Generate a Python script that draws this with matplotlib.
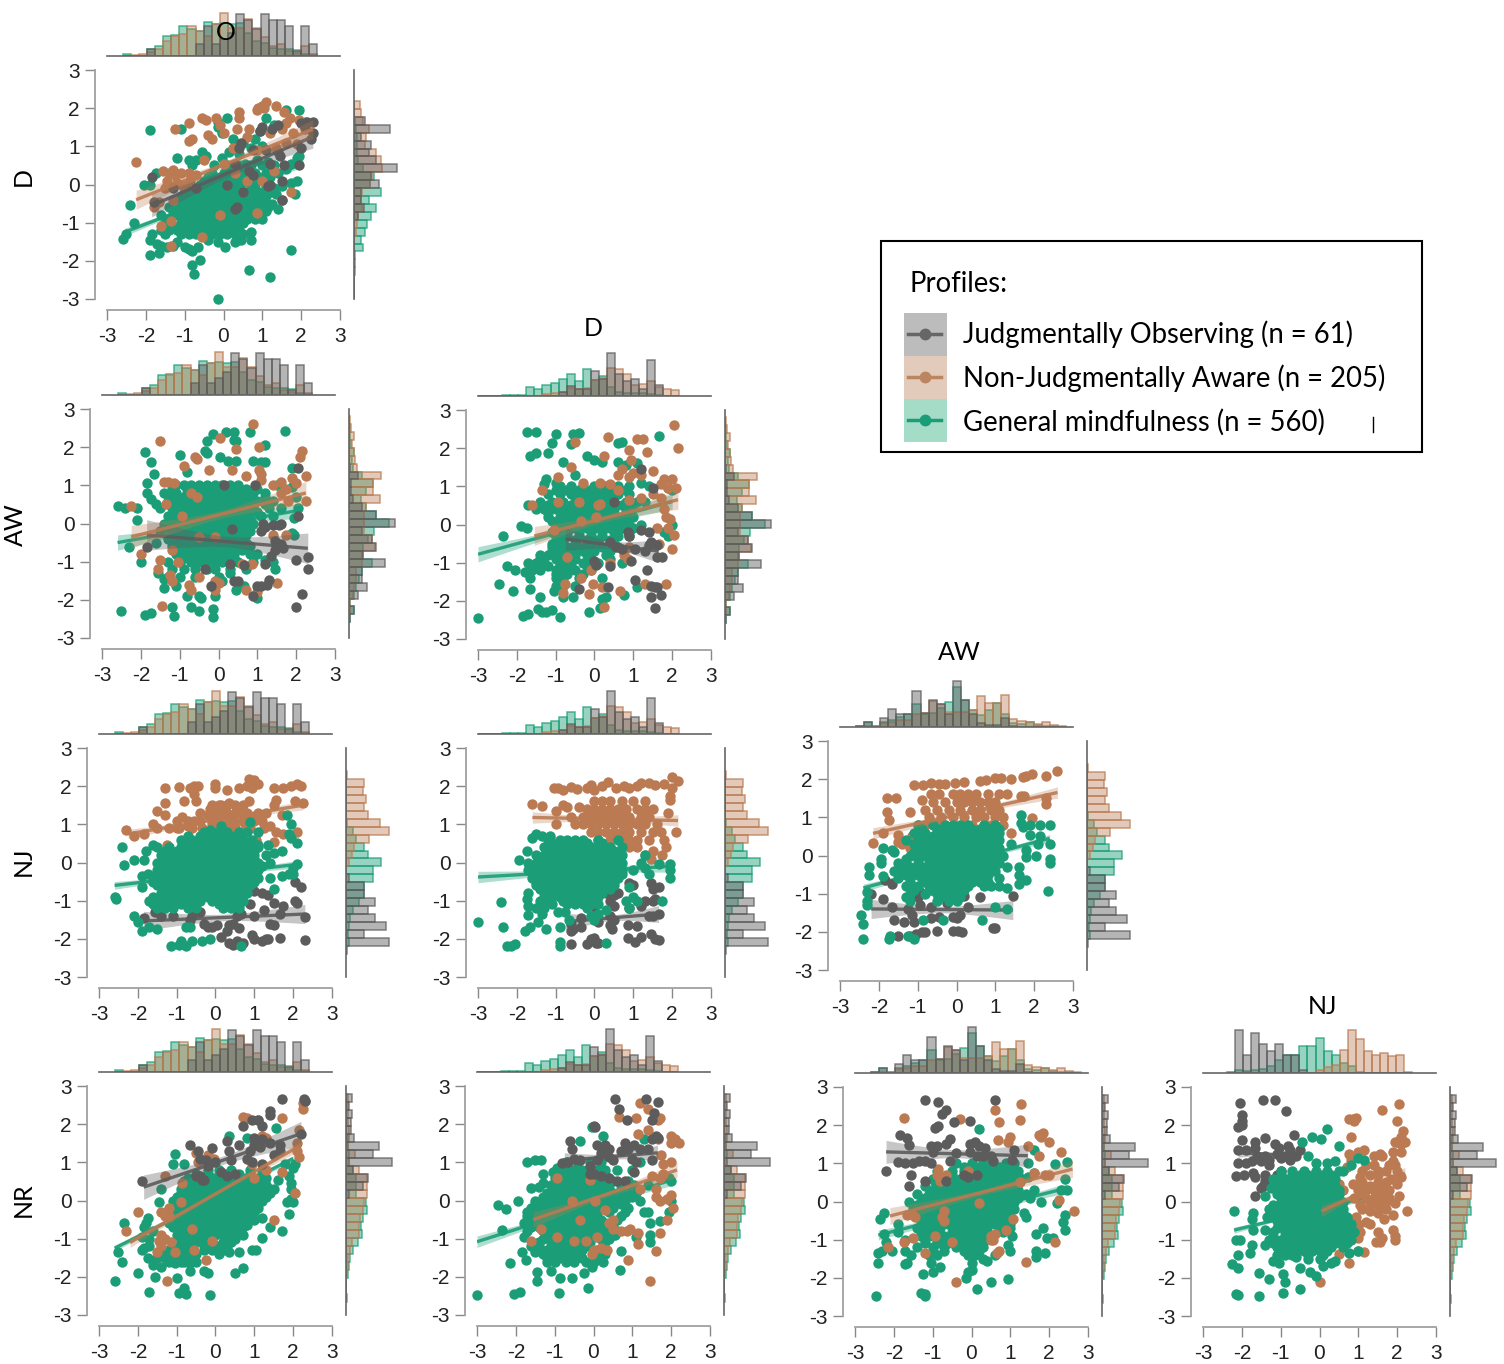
import numpy as np
import matplotlib
matplotlib.use("Agg")
import matplotlib.pyplot as plt

plt.rcParams["axes.unicode_minus"] = False

W, H = 1504, 1364
GRAY, BROWN, GREEN = "#5c5c5c", "#bb7a52", "#1b9e77"
COLORS = [GRAY, BROWN, GREEN]
FONT = "Lato"
TICKS = [-3, -2, -1, 0, 1, 2, 3]

# histogram bar heights, one bin per value; start and step of the bins
o_start, o_step = -2.6, 0.209
o_gray = [0,0,0,20,0,0,0,0,0,35,90,35,50,68,127,108,80,127,107,108,90,15,90,35]
o_brown = [1,3,5,12,20,45,60,65,90,75,60,95,128,85,85,110,85,58,30,37,15,10,30,5]
o_green = [5,0,0,20,30,60,62,90,80,75,103,95,100,97,100,70,45,40,25,20,20,18,5,3]
d_start, d_step = -3.0, 0.2075
d_gray = [0,0,0,0,0,0,0,0,0,0,12,30,20,22,75,50,128,65,45,52,22,108,33,0,0]
d_brown = [0,0,0,0,0,0,0,0,5,10,12,25,22,25,48,55,85,80,65,32,35,45,28,22,18]
d_green = [1,1,1,2,3,3,27,22,34,40,50,65,45,82,48,60,28,12,10,8,8,5,3,0,0]
aw_start, aw_step = -2.59, 0.208
aw_gray = [2,15,0,27,54,40,40,108,42,82,68,40,137,82,40,12,5,5,27,4,0,0,0,0,0,0]
aw_brown = [1,3,2,12,15,22,22,40,42,78,70,45,45,45,52,92,72,72,97,25,18,15,8,14,5,2]
aw_green = [3,15,2,15,20,30,40,68,40,42,58,75,120,82,50,35,50,72,40,12,10,15,5,3,3,1]
nj_start, nj_step = -2.39, 0.208
nj_gray = [2,130,55,120,88,65,87,55,55,8,0,0,0,0,0,0,0,0,0,0,0,0,0]
nj_brown = [0,0,0,0,0,0,0,0,0,0,0,8,18,25,70,130,103,65,55,60,50,55,2]
nj_green = [1,8,5,10,12,20,38,55,55,82,82,105,65,55,30,20,3,0,0,0,0,0,0]
nr_start, nr_step = 2.78, -0.209
nr_gray = [18,8,18,15,14,25,100,82,138,20,65,50,10,0,0,0,0,0,0,0,0,0,0,0,0,0]
nr_brown = [5,5,6,5,8,10,5,28,10,38,62,62,62,55,50,42,38,38,18,12,5,5,3,1,0,0]
nr_green = [0,0,0,0,0,5,5,8,8,20,30,30,30,60,62,52,45,48,37,20,12,10,6,0,0,3]

# scatter points as x,y pairs per panel; *_core and *_fill = {y: [x, ...]} for the solid middle of a cloud
od_gray = [2,1.6, 2.15,1.65, 2.3,1.65, 2.1,1.5, 2.3,1.35, 2.25,1.2, 2,.95, 1.95,.5, 1,1.5, .95,1.4, 1.25,1.45, 1.4,1.55, .45,1.1, .4,.95, .75,.9, 1.1,.9, 1.2,.55, 1.45,.75, 1.55,.5, 1.5,.1, -1.85,.2, -1.8,-.45, -1.3,-.1, -.7,-.1, .1,0, .5,-.2, .65,.35, .3,.55, .35,-.6, .3,-.65, 1.2,0, 1.15,-.05, 1.5,-.4, .75,.25]
od_brown = [.9,2, 1,2.05, 1.1,2.15, 1.05,2, .85,1.95, 1.35,2.05, 1.55,1.9, 1.7,1.75, 1.95,1.7, 2.1,1.65, 1.6,1.6, .4,1.9, .4,1.75, -.55,1.75, -.45,1.7, -.2,1.75, -.9,1.6, -1.25,1.45, -.1,1.55, .35,1.45, .65,1.45, -.8,1.2, -.9,1.15, -.4,1.3, -.3,1.2, 0,1.35, .25,.95, .6,1.25, .85,.9, 1.2,1.35, 1.5,1.45, 1.8,1.35, 2.1,1.45, 1.6,1.1, 1.35,.95, 1.9,1.05, -2.25,.6, -1.55,.35, -1.4,.3, -1.3,.38, -1.25,.25, -1.1,.3, -.9,.3, -.85,.1, -.7,.25, -1.45,.1, -1.2,.05, -1.05,-.05, -1.5,-.1, -1.8,-.6, -1.65,-.45, -1.3,-.4, -1.35,-.95, -1.6,-1.1, -.55,-1.38, -1.35,-1.62, -.1,-.8, .85,-.75, 1.75,-.2, -.5,.65, 0,.55, .3,.3, .6,.1, 1,.1, 1.3,.35, 1.5,-.4]
od_green = [-1.9,1.42, -1.1,1.45, -2.6,-1.43, -2.5,-1.3, -2.4,-.55, -2.3,-1, -2.05,0, -1.9,0, -1.75,.3, -1.2,.7, -.9,.65, -.7,.65, -.55,.85, -.45,.75, -.15,1.65, .1,1.75, -.15,1.5, -.05,1.35, .25,1.2, .5,1.1, .8,1.2, .95,1.4, 1.1,1.75, 1.6,1.95, 1.95,1.95, 1.3,1.55, 1,1, .7,.95, .4,.8, .15,.85, -.25,.5, -.05,.7, .55,.55, .85,.65, 1.15,.6, 1.4,.85, 1.75,.55, 1.9,.7, 1.95,.75, 1.6,.4, 1.75,.05, 1.9,.1, 1.85,-.25, 1.5,-.05, 1.35,-.25, 1.25,-.5, 1.4,-.65, 1.15,-.6, 1,-.9, .75,-.7, .7,-1.25, .7,-1.45, 1.75,-1.72, 1.2,-2.42, .65,-2.25, -.15,-3, -.6,-1.97, -.8,-2.1, -.75,-2.35, -.8,-1.75, -1.9,-1.85, -1.65,-1.8, -1.6,-1.6, -1.45,-1.65, -1.9,-1.45, -1.85,-1.3, -1.7,-1.55, -1.3,-1.6, -1.2,-1.5, -1,-1.65, -.9,-1.7, -.65,-1.65, -.4,-1.45, -.15,-1.5, .05,-1.65, .3,-1.5, .45,-1.45]
od_green_core = {-1.2: [-1.6,-1.4,-1.2,-1,-.8,-.6,-.4,-.2,0,.2,.4], -1: [-1.5,-1.1,-.9,-.7,-.5,-.3,-.1,.1,.3,.5], -.8: [-1.6,-1.2,-1,-.8,-.6,-.4,-.2,0,.2,.4,.6], -.6: [-1.4,-1.1,-.9,-.7,-.5,-.3,-.1,.1,.5,.8], -.4: [-1.2,-1,-.8,-.6,-.4,-.2,0,.2,.4,.7,1], -.2: [-1,-.7,-.5,-.3,-.1,.1,.3,.6,.9,1.2], 0: [-.6,-.4,-.2,0,.2,.4,.7,1.1], .2: [-.4,-.1,.1,.3,.6,.9,1.2]}
od_green_fill = {-1.3: [-1.5,-1.1,-.9,-.7,-.5,-.3,-.1,.1,.3,.5], -1.1: [-1.3,-1.1,-.9,-.7,-.5,-.3,-.1,.1,.3], -.9: [-1.4,-1,-.8,-.6,-.4,-.2,0,.2,.4,.6,.8], -.7: [-1.3,-1,-.8,-.6,-.4,-.2,0,.2,.6,.9,1.1], -.5: [-1.2,-.9,-.7,-.5,-.3,-.1,.1,.6,.9,1.1], -.3: [-1.1,-.9,-.7,-.5,-.3,-.1,.1,.3,.5,.8,1.1], -.1: [-.9,-.6,-.4,-.2,0,.2,.8,1.1,1.3], .1: [-.5,-.3,-.1,.1,.3,.5,.8,1.1], .3: [-.3,0,.2,.5,.8,1.1,1.4], .5: [-.8,.1,.4,.7,1,1.3]}

oaw_gray = [2.05,1.45, 2.05,.2, 2,-.95, 2.3,-.87, 2.3,-1.2, 2.15,-1.85, 2,-2.2, .9,-1.9, 1,-1.65, 1.1,-1.65, 1.25,-1.6, 1.3,-1.48, 1.2,-1.05, 1.35,-.85, 1.45,-.7, 1.5,-.55, 1.45,-.45, 1.6,-.55, 1.65,-.65, 1.2,-.1, 1.4,-.05, 1.55,-.05, 1.6,0, 1.1,-.2, 1.15,0, .95,1, .15,1, -1.85,-.62, .35,-.15, .3,-1.05, .65,-1.1, .4,-1.5, .5,-1.5, -.2,-1.65, -.35,-1.2]
oaw_brown = [-1.5,2.17, .9,2.6, .05,2.25, .45,1.95, 1.05,2, 2.15,1.9, 2.1,1.75, -.6,1.75, -.55,1.7, -.9,1.5, -.25,1.4, .35,1.4, 1.05,1.4, 1.1,1.3, -1.3,1.1, -1.4,1.1, -1.15,1.05, -2.25,.45, 1.6,1.1, 1.9,1.2, 2.25,1.25, 2,1.05, 1.75,.9, 1.4,1, 2.25,.6, 1.8,.6, 1.6,.8, 1.1,1.15, .7,1.25, -.7,.8, -.55,.7, -1.35,.5, -.95,.2, -.5,-.35, -.1,-.35, 1.4,-.3, 1.75,-.3, -2,-.8, -1.5,-.95, -1.55,-1.2, -1.2,-.7, -1.05,-1, -1.25,-1.35, -1.2,-1.5, -.5,-1.4, -.75,-1.6, -.7,-1.75, -.1,-1.5, 0,-1.55, -.1,-1.75, .7,-1.75, 1.5,-1.55, 1,-1.8, -1.45,-2.15, .6,-1.05, .85,-1.05]
oaw_green = [-2.6,.47, -2.4,.4, -2.1,.4, -2.1,.1, -2.3,-.62, -2,-1, -1.9,1.87, -1.75,1.6, -1.65,1.3, -1.85,.8, -1.85,1.05, -1.75,.65, -1.6,.5, -1.6,-.5, -1.55,-1.3, -1.4,-1.45, -1.4,-1.7, -1.1,-1.65, -1,1.8, -.8,1.35, -.3,2.15, -.35,1.9, -.3,1.85, -.15,2.35, .2,2.4, .4,2.4, .45,2.15, .4,2.2, .8,2.4, 1.7,2.43, 1.2,2.05, .05,1.75, .25,1.65, .45,1.65, .9,1.65, 1.1,1.6, 1.2,1.6, 1.9,1.45, 1.9,.95, 2,.7, 2.05,.4, 1.95,.15, 1.5,1, -2.5,-2.3, -1.9,-2.4, -1.75,-2.35, -1.2,-2.2, -1.15,-2.43, -.7,-2.2, -.5,-2.3, -.15,-2.25, -.15,-2.45, -.8,-1.9, -.5,-1.9, -.45,-1.95, -.1,-1.9, .45,-1.75, .65,-1.65, .95,-1.9, 1,-1.95, 1.2,-.95, 1.4,-1, 1.45,-1.2, 1.95,-.3, 1.9,-.25, .3,-1.3, .1,-1.5]
oaw_green_core = {1: [-1.1,-.9,-.7,-.5,-.3,-.1,.1,.3,.5], .8: [-1.4,-1.1,-.8,-.6,-.4,-.2,0,.2,.4,.6,.9,1.2], .6: [-1.3,-1,-.7,-.5,-.3,-.1,.1,.3,.5,.7,1,1.4], .4: [-1.5,-1.2,-.9,-.6,-.4,-.2,0,.2,.4,.6,.9,1.3,1.6], .2: [-1.3,-1,-.7,-.5,-.3,-.1,.1,.3,.5,.7,1.1,1.4], 0: [-1.4,-1.1,-.8,-.6,-.4,-.2,0,.2,.4,.6,.9], -.2: [-1.5,-1.2,-.9,-.7,-.5,-.3,-.1,.1,.3,.5,.8], -.4: [-1.3,-1,-.8,-.6,-.4,-.2,0,.2,.4,.6], -.6: [-1.2,-.9,-.7,-.5,-.3,-.1,.1,.3,.5,.8], -.8: [-1.1,-.8,-.6,-.4,-.2,0,.2,.4,.8,1], -1: [-1.3,-1,-.7,-.5,-.3,-.1,.1,.5,.9], -1.2: [-1.2,-.9,-.6,-.3,-.1,.3,.7], -1.4: [-1.3,-1,-.6,0]}
oaw_green_fill = {.9: [-1.2,-.8,-.6,-.4,-.2,0,.2,.4,.7,1], .7: [-1.2,-.9,-.6,-.4,-.2,0,.2,.4,.6,.8,1.2], .5: [-1.1,-.8,-.6,-.4,-.2,0,.2,.4,.6,.8,1.2], .3: [-1.1,-.8,-.6,-.4,-.2,0,.2,.4,.6,.8,1], .1: [-1.2,-.9,-.6,-.4,-.2,0,.2,.4,.6,.8], -.1: [-1.3,-1,-.7,-.5,-.3,-.1,.1,.3,.5,.7], -.3: [-1.1,-.9,-.7,-.5,-.3,-.1,.1,.3,.5,.7], -.5: [-1.1,-.9,-.7,-.5,-.3,-.1,.1,.3,.5,.7], -.7: [-1,-.8,-.6,-.4,-.2,0,.2,.4,.6], -.9: [-.9,-.6,-.4,-.2,0,.2,.4]}

daw_gray = [1.2,1.45, 1.5,.95, .5,.6, .85,-.2, 1.2,-.15, 1.4,-.2, 1.45,-.45, 1.4,-.55, 1.6,-.55, .4,-.45, .55,-.6, .7,-.65, .95,-.95, 1.35,-1.2, 1.45,-1.6, 1.55,-1.65, 1.6,-1.65, 1.45,-1.9, 1.7,-1.85, 1.55,-2.18, .35,-1.65, -.4,-1.68, 0,-.95, .05,-1.05, .4,-1.1, 1.05,-1.45, 1.75,-.85, 1.6,-.85, .9,-.3, 1.05,-.65, 1.3,-.7]
daw_brown = [.35,2.3, -.5,2.15, 1.1,2.23, 1.25,2.25, 2.05,2.6, 2.15,2, .9,1.95, 1.35,1.9, .25,1.8, .95,1.7, -.6,1.5, -.95,1.25, .7,1.45, 1,1.35, 1.2,1.3, 1.5,1.4, .9,1.25, .6,1.3, 1.8,1.2, 2,1.2, 1.7,1.05, 2.1,.95, 1.9,.95, 1.7,.7, 1.5,.8, 1.2,.7, 1.8,.4, .9,.65, -1.35,.9, -.95,.6, -1.6,.5, -.3,1.1, .15,1.1, .4,1.05, -.4,.6, .1,.5, .15,.55, .6,.9, 1.85,.2, 1.95,.15, 1.9,-.1, 1.6,-.1, 2.05,-.27, 2,-.65, 1.65,-.5, -1.05,-.15, -.35,.1, .05,.2, .85,-.9, .4,-1, -.1,-1.2, -.35,-1.4, -.75,-1.55, -.8,-1.8, .2,-1.65, -.05,-1.55, -.15,-1.82, .65,-1.75, .25,-2.15, 1.85,-1.55, 1.3,-1.55, -.7,-.85, .75,-.8, .9,-.6]
daw_green = [-1.75,2.42, -1.5,2.42, -1,2.38, -.55,2.38, -.4,2.4, -1.1,2.13, -.6,2.1, -1.2,1.88, -1.5,1.88, -1.65,1.8, -.8,1.65, .6,2.13, .7,2.15, 1.65,2.33, -.2,1.8, 0,1.7, .2,1.65, .6,1.65, .8,1.55, 1.1,1.6, -.5,1.3, -1.25,1.2, -1.3,1.05, -1,1.1, -1.7,.5, -1.9,-.05, -2.35,-.3, -1.75,-.1, -2.25,-1.1, -2.05,-1.2, -1.8,-1.25, -1.65,-1.4, -2.45,-1.57, -2.1,-1.75, -1.65,-1.7, -1.4,-1.9, -3,-2.45, -1.85,-2.4, -1.7,-2.35, -1.45,-2.22, -1.35,-2.3, -1.25,-2.3, -1.1,-2.23, -.9,-2.42, -.15,-2.3, .15,-2.2, .2,-1.95, .3,-1.9, -.55,-1.9, -.8,-1.9, -1.05,-1.75, .75,-1.85, 1.1,-1.65, 1.9,.95, 2,.9, 1.9,-.3, 2,0, 1.8,-.2, 1.2,1.1, 1.4,1, .9,1]
daw_green_core = {1: [-.9,-.6,-.3,0,.3,.6], .8: [-1.2,-.9,-.6,-.4,-.2,0,.2,.4,.6,.9], .6: [-1.4,-1.1,-.8,-.5,-.3,-.1,.1,.3,.5,.8,1.1,1.3], .4: [-1.5,-1.3,-1,-.7,-.4,-.2,0,.2,.5,.8], .2: [-1.2,-.9,-.6,-.3,-.1,.1,.3,.6,1], 0: [-1,-.8,-.5,-.3,-.1,.1,.3,.6,.9,1.2], -.2: [-1.1,-.9,-.7,-.4,-.1,.2,.5,.9], -.4: [-1,-.8,-.5,-.2,.1,.4], -.6: [-1.1,-.9,-.7,-.4,-.1,.2,.6], -.8: [-1.4,-1.2,-1,-.8,-.5,-.2,.3], -1: [-1.7,-1.5,-1.3,-.9,-.7,-.3,.1,.7], -1.2: [-1.6,-1.4,-1,-.8,-.5,-.1], -1.4: [-1,-.8,-.4,.2], -1.6: [-1,-.8,-.5]}
daw_green_fill = {.9: [-1,-.7,-.4,-.1,.2,.5,.8], .5: [-1.2,-.9,-.6,-.2,0,.2,.4,.7,1], .3: [-1.2,-.8,-.5,-.2,0,.2,.4,.8], .1: [-1.1,-.8,-.6,-.4,-.2,0,.2,.5,.8], -.1: [-1,-.8,-.6,-.2,0,.2,.4,.7,1], -.3: [-1,-.7,-.4,-.1,.2,.6,.9], -.5: [-1.1,-.8,-.5,-.2,.1,.5], -.7: [-1.1,-.8,-.6,-.3,0,.4], -.9: [-1.4,-1,-.8,-.5,-.1,.4], -1.1: [-1.5,-1.2,-.9,-.6,-.2], -1.3: [-1,-.7,-.3]}

onj_gray = [-1.85,-1.45, -1.55,-1.3, -1.4,-1.4, -1.1,-1.4, -.65,-1.5, -.6,-1.4, -.4,-1.3, -.3,-1.62, -.2,-1.7, -.1,-1.68, .05,-1.65, .15,-1.95, .3,-1.8, .35,-1.65, .45,-1.6, .55,-1.4, .65,-1.35, .6,-1.72, .35,-2.1, .45,-2.15, .55,-2.05, .7,-2.1, .95,-1.9, 1,-2, 1.2,-2.05, 1.3,-2, 1.35,-2, 1.65,-1.97, 2.3,-2.03, 2.3,-1.43, 1.65,-1.35, 1.4,-1.6, 1.5,-1.65, 1.25,-1.25, 1,-1.4, .9,-1.1, 1,-.75, 1.2,-.8, 1.35,-.85, 1.75,-1.15, 2.05,-1, 2.1,-1.05, 2.05,-.5, 2.2,-.65, -.3,-.8, .05,-.9, 1.5,-1.05]
onj_brown = [-2.3,.85, -2.1,.7, -1.85,.75, -1.6,1, -1.5,1.35, -1.3,1.25, -1.3,1.55, -1.3,1.95, -.95,1.97, -.8,1.6, -.85,1.2, -.65,1.95, -.55,2, -.55,1.8, -.45,2, -.5,1.6, -.55,1.1, -1.2,.9, -.95,.9, -.7,.95, -.35,.9, -.1,1, 0,2.05, 0,1.95, .3,1.9, .15,1.5, .05,1.35, -.2,1.25, -.15,1.4, .35,1.55, .55,1.45, .6,1.95, .8,2, .85,2.2, 1,2.15, 1.1,2.05, .95,1.95, .6,1.3, .85,1.6, .95,1.2, 1.2,1.1, 1.3,1.3, 1.55,1.65, 1.5,1.5, 1.5,1.95, 1.75,1.95, 1.95,2, 2.1,2.05, 2.2,2, 2.05,1.6, 2.25,1.55, 1.7,1.25, 1.4,.95, 1.55,.8, 1.75,.75, 1.5,.55, 1.05,.6, 2.1,.8, -1.25,.45, .2,1.1, .5,1.05, .75,1, .3,.95, 0,1.1]
onj_brown_core = {1.5: [-.1,.1,.3,.5,.7], 1.3: [-.4,-.1,.1,.3,.5,.8,1.1], 1.1: [-1,-.7,-.4,-.1,.1,.4,.7,1], .9: [-1.5,-1,-.6,0,.5,.9,1.25]}
onj_green = [-2.4,.4, -2.35,-.07, -2.1,.07, -1.85,.07, -1.8,.3, -1.6,.47, -1.9,-.35, -1.75,-.3, -1.9,-.65, -2.6,-.9, -2.55,-.95, -1.6,-.5, -2.1,-1.4, -2,-1.55, -1.9,-1.8, -1.7,-1.7, -1.5,-1.73, -1.15,-2.2, -.95,-2.15, -.9,-2.05, -.75,-2.2, -.6,-2.05, -.35,-2.05, -.15,-2, -.75,-1.7, -.65,-1.7, .65,-2.2, 1.85,1.25, 1.95,1, 1.9,.75, 1.95,.65, 2.1,.5, .9,1.05, 1.1,.8, 1.7,.3, 1.5,.25, 1.35,.45, 2.1,-.05, 2,-.15, 1.9,-.3, 2,-.3, 1.7,-.35, 1.4,-.4, 1.5,-.7, 1.2,-.1, 1.1,.45, .15,.95, -.15,.85]
onj_green_core = {.8: [-.3,-.1,.1,.3,.6,.8], .6: [-.9,-.6,-.4,-.2,0,.2,.4,.7,.95], .4: [-1.5,-1.2,-.9,-.6,-.4,-.2,0,.2,.4,.6,.9,1.1], .2: [-1.4,-1.1,-.8,-.6,-.4,-.2,0,.2,.4,.6,.8,1,1.3], 0: [-1.5,-1.3,-1.1,-.9,-.7,-.5,-.3,-.1,.1,.3,.5,.7,.9,1.1,1.4], -.2: [-1.5,-1.3,-1.1,-.9,-.7,-.5,-.3,-.1,.1,.3,.5,.7,.9,1.1], -.4: [-1.6,-1.3,-1.1,-.9,-.7,-.5,-.3,-.1,.1,.3,.5,.7,.9,1.1], -.6: [-1.5,-1.3,-1.1,-.9,-.7,-.5,-.3,-.1,.1,.3,.5,.7,.9], -.8: [-1.4,-1.2,-1,-.8,-.6,-.4,-.2,0,.2,.4,.6,.8], -1: [-1.7,-1.5,-1.3,-1.1,-.8,-.6,-.4,-.1,.1,.3,.5,.7], -1.2: [-1.5,-1.3,-1.1,-.7,-.5,.2,.4,.6]}
onj_green_fill = {.7: [-.7,-.4,-.2,0,.2,.5], .5: [-.8,-.5,-.3,-.1,.1,.3,.5,.8], .3: [-1.3,-1,-.7,-.5,-.3,-.1,.1,.3,.5,.7,1], .1: [-1.2,-1,-.8,-.6,-.4,-.2,0,.2,.4,.6,.8,1], -.1: [-1.4,-1.2,-1,-.8,-.6,-.4,-.2,0,.2,.4,.6,.8,1], -.3: [-1.4,-1.2,-1,-.8,-.6,-.4,-.2,0,.2,.4,.6,.8,1], -.5: [-1.4,-1.2,-1,-.8,-.6,-.4,-.2,0,.2,.4,.6,.8,1], -.7: [-1.3,-1.1,-.9,-.7,-.5,-.3,-.1,.1,.3,.5,.7], -.9: [-1.6,-1.4,-1.2,-1,-.7,-.5,-.2,0,.2,.4,.6], -1.1: [-1.6,-1.4,-1.2,-.9,-.6,.1,.3,.5]}

dnj_gray = [.9,-.55, 1,-.6, 1.45,-.55, 1.5,-.7, 1.65,-.65, .3,-.8, .5,-.85, .6,-.8, .4,-1, .5,-1.15, 1.3,-1, 1.5,-1, 1.55,-.95, 1.2,-1.15, .9,-1.2, 0,-1.15, .05,-1.35, .4,-1.4, .5,-1.5, .1,-1.55, -.35,-1.45, -.6,-1.6, -.6,-1.8, -.35,-1.7, -.55,-1.75, .4,-1.65, .45,-1.75, .85,-1.65, 1.1,-1.67, 1.4,-1.4, 1.5,-1.4, 1.65,-1.35, .85,-1.97, 1.05,-2.07, 1.2,-1.95, 1.45,-1.87, 1.55,-2, 1.65,-2.03, -.6,-2.13, -.2,-2.13, -.1,-2, 0,-1.97, .05,-2.1, .1,-2.1]
dnj_brown = [-1.6,1.52, -1.35,1.48, -1,1.35, -1.05,1.95, -.95,1.95, -.8,1.9, -.6,1.97, -.45,1.93, -.2,1.95, -.1,2.03, 0,1.9, .2,2, .35,2.1, .55,1.95, .75,2, .9,1.95, 1.1,2, 1.2,2.07, 1.4,2.07, 1.55,2.02, 1.8,2.05, 2,2.25, 2.15,2.13, 2,1.95, 1.95,1.75, 1.95,1.65, 1.9,1.3, 2.1,.8, 1.8,.6, 1.85,.4, 1.75,.2, 1.5,.3, 1.45,.1, 1.3,.2, -.8,1.5, -.7,1.45, -.4,1.45, -1,1, -1.15,.65]
dnj_brown_core = {1.6: [0,.2,.4,.7,1,1.3], 1.4: [-.2,0,.2,.4,.6,.8,1.1,1.3,1.5], 1.2: [-.6,-.3,-.1,.1,.3,.5,.7,.9,1.2,1.4], 1: [-.5,-.3,-.1,.1,.3,.5,.7,.9,1.1,1.3,1.6], .8: [-.1,.1,.3,.5,.7,.9,1.2,1.5,1.7], .6: [.1,.4,.7,.9,1.1,1.4], .4: [.4,.9,1.1]}
dnj_green = [-1.95,.07, -1.75,.3, -1.5,.75, -1.6,.65, -1.35,.7, -1.15,.7, -2.4,-1.04, -1.75,-.95, -1.7,-1.15, -1.7,-1.38, -3,-1.55, -2.35,-1.7, -1.65,-1.7, -1.8,-1.8, -1.45,-1.55, -1.25,-1.73, -2.25,-2.18, -2.15,-2.2, -2.05,-2.13, -.9,-1.7, -.9,-2.07, -.9,-2.2, .3,-2.1, 1.95,-.05, 1.95,-.2, 1.95,-.4, 1.75,-1.02, 1.4,-.3, 1.3,-.15, 1.2,0, 1.3,.2, 1.65,-.05, 1,-.2, .9,-.65, 1,-.9, 1.1,-1, .8,-1, .9,-1.2, -1.35,-1.35, -1.3,-1.2, -1.5,-1.2, -.95,-1.3, -.75,-1.3, -.65,-1.5, -.2,-1.2, -.1,-1.4, .1,-1.35, 0,-1.5, .3,-1.25]
dnj_green_core = {.6: [-1.2,-.9,-.7,-.5,-.3,.1,.6], .4: [-1.3,-1.1,-.9,-.7,-.5,-.3,-.1,.1,.4,.7], .2: [-1.5,-1.3,-1.1,-.9,-.7,-.5,-.3,-.1,.1,.3,.5,.7], 0: [-1.7,-1.5,-1.3,-1.1,-.9,-.7,-.5,-.3,-.1,.1,.3,.5,.7], -.2: [-1.7,-1.5,-1.3,-1.1,-.9,-.7,-.5,-.3,-.1,.1,.3,.5,.7], -.4: [-1.6,-1.4,-1.2,-1,-.8,-.6,-.4,-.2,0,.2,.4,.6], -.6: [-1.5,-1.3,-1.1,-.9,-.7,-.5,-.3,-.1,.1,.3,.5], -.8: [-1.7,-1.3,-1,-.8,-.6,-.4,-.2,0,.2], -1: [-1.4,-1.2,-.8,-.6,-.4,-.2,0]}
dnj_green_fill = {.5: [-1.1,-.8,-.6,-.4,-.2,.2], .3: [-1.2,-1,-.8,-.6,-.4,-.2,0,.2,.5], .1: [-1.4,-1.2,-1,-.8,-.6,-.4,-.2,0,.2,.4,.6], -.1: [-1.6,-1.4,-1.2,-1,-.8,-.6,-.4,-.2,0,.2,.4,.6], -.3: [-1.5,-1.3,-1.1,-.9,-.7,-.5,-.3,-.1,.1,.3,.5,.7], -.5: [-1.5,-1.3,-1.1,-.9,-.7,-.5,-.3,-.1,.1,.3,.5], -.7: [-1.4,-1.2,-1,-.8,-.6,-.4,-.2,0,.2,.4], -.9: [-1.3,-1.1,-.9,-.7,-.5,-.3,-.1,.1], -1.1: [-1.3,-1.1,-.7,-.5,-.3,-.1,.1]}

awnj_gray = [-1.85,-.65, -1.65,-.75, -1.9,-1.15, -2.2,-1, -1.65,-1.35, -1.6,-1.7, -1.35,-1.75, -1.1,-1.75, -1.15,-1.55, -1.25,-1.4, -.95,-1.3, -.65,-.9, -.95,-.95, -1,-1.1, -.65,-1.35, -.65,-1.65, -.45,-1.6, -.25,-1.25, -.1,-1.6, 0,-1.65, .1,-1.55, .3,-1.35, .6,-1.1, 1.45,-1.07, 1,-1.9, .95,-1.9, 0,-.7, .3,-.7, .2,-1.05, -1.5,-2.1, -1.2,-2.1, -1.05,-2.05, -.9,-2, -.8,-2, -.5,-1.98, -.1,-1.97, .05,-1.98, .15,-2]
awnj_brown = [-2.15,.32, -1.9,.6, -1.8,1.5, -1.55,1.5, -1.8,1.15, -1.75,.92, -1.2,1.13, -.9,1.45, -1.1,1.85, -.85,1.85, -.65,1.9, -.45,1.88, -.3,1.88, -.05,1.9, .2,1.92, .6,1.95, .75,1.97, 1,2.03, 1.15,2.03, 1.4,2, 1.7,2.05, 1.8,2.08, 1.95,2.13, 2.3,2.07, 2.6,2.22, 2.3,1.35, 2.3,1.5, 1.65,1.55, 1.75,1.55, 1.95,.97, -.65,1.6, -.45,1.6, -1.5,.55, -1.5,.35, -1.4,.3, -1.15,.5, -1.2,.2, -.65,.45]
awnj_brown_core = {1.6: [-.1,.1,.3,.5,.8,1.1,1.3], 1.4: [-.6,-.3,0,.2,.4,.6,.8,1], 1.2: [-.8,-.5,-.2,.1,.4,.6,.9,1.1], 1: [-.7,-.4,-.1,.2,.5,.7,1,1.2], .8: [-1,-.8,-.5,-.3,.4,.7,.9,1.2], .6: [-.9,1.4]}
awnj_green = [-2.25,-.3, -2.25,-.5, -1.9,.2, -1.95,-.1, -1.95,-.2, -1.65,.15, -1.6,.1, -1.9,-.55, -2.3,-.95, -2.3,-1.2, -2.3,-1.3, -2.45,-1.55, -2.4,-1.8, -2.4,-2.2, -1.75,-2.2, -1.7,-2.1, -1.25,-2.1, -1.1,-2.18, -.85,-1.7, .65,-1.7, -.35,-1.7, 1.3,-1.4, 1,-1.35, 1.65,1.05, 1.65,.85, 1.7,.75, 1.9,.8, 2.15,.8, 2.4,.8, 1.9,.55, 2.15,.5, 2.4,.3, 2.1,.3, 2.05,0, 1.8,.15, 1.8,-.05, 2.4,-.1, 2.4,-.2, 1.6,-.3, 1.4,.3, 1.3,-.3, 1.6,-.5, 1.3,-.85, 1.8,-.65, 1.6,-.75, 2.35,-.92, 1.1,-.8]
awnj_green_core = {.8: [-1,-.6,-.3,-.1,.1,.3,.7,1], .6: [-1.1,-.8,-.5,-.3,-.1,.1,.3,.5,.7,.9,1.1], .4: [-1.3,-1,-.7,-.5,-.3,-.1,.1,.3,.5,.7,.9,1.1], .2: [-1,-.7,-.5,-.3,-.1,.1,.3,.5,.7,.9,1.1], 0: [-1.2,-.9,-.6,-.4,-.2,0,.2,.4,.6,.8,1,1.2], -.2: [-1.5,-1.3,-1,-.7,-.5,-.3,-.1,.1,.3,.5,.7,.9,1.1], -.4: [-1.6,-1.4,-1.1,-.8,-.6,-.4,-.2,0,.2,.4,.6,.8,1], -.6: [-1.5,-1.2,-.9,-.7,-.5,-.3,-.1,.1,.3,.5,.7,1.1], -.8: [-1.3,-1,-.7,-.5,-.3,-.1,.1,.3,.7,.9], -1: [-1.2,-.8,-.5,-.3,-.1,.1], -1.2: [-1.2,-.5,-.2,0]}
awnj_green_fill = {.7: [-.9,-.5,-.2,0,.2,.4,.6,.8,1.1], .5: [-.9,-.6,-.4,-.2,0,.2,.4,.6,.8,1], .3: [-1.1,-.8,-.6,-.4,-.2,0,.2,.4,.6,.8,1], .1: [-1.1,-.8,-.6,-.4,-.2,0,.2,.4,.6,.8,1], -.1: [-1.3,-1,-.7,-.5,-.3,-.1,.1,.3,.5,.7,.9], -.3: [-1.2,-.9,-.7,-.5,-.3,-.1,.1,.3,.5,.7,.9], -.5: [-1.3,-1,-.8,-.6,-.4,-.2,0,.2,.4,.6,.8], -.7: [-1.2,-.8,-.6,-.4,-.2,0,.2,.4,.6,.8], -.9: [-1.1,-.6,-.4,-.2,0,.2], -1.1: [-1.3,-.4,-.1,.1]}

onr_gray = [-1.9,.52, -.65,1.45, -.4,1.1, -.45,1.3, -.25,1.05, -.1,1.38, .3,1.55, .35,1.3, .4,1.05, .6,1.45, .7,1.95, .95,2.1, 1.1,2.1, 1.2,1.95, 1.4,2.35, 1.4,2.25, 1.7,2.65, 2.28,2.65, 2.3,2.6, 2.2,1.75, 1,1.65, 1,1.45, 1.15,1.4, 1.2,1.6, 1.4,1.5, .9,1.3, .95,1, 1.2,.95, 1.65,1.45, 1.65,1.3, 1.5,1.2, .8,1.1, 0,1, -.2,.9, -.5,.65, -.4,.65, -.35,.55, -.3,.55, .3,.65, .5,.7, .15,.75]
onr_brown = [2.3,2.6, 2.25,2.4, 2.25,2.55, .7,2.2, .8,2.15, 1.1,2.1, 1.7,2.15, 2.15,1.85, 2.1,1.5, 2.1,1.3, 2.15,1.15, 1.2,1.7, 1.3,1.65, .95,.95, -.5,1.25, -.45,1, -.2,1.2, -.05,1.1, -1.3,.65, -.85,.45, -.9,-.05, -1.4,-.3, -1.2,-.2, -1.3,-.4, -1.2,-.4, -2,-.3, -1.15,-1.1, -1.45,-1.05, -1.4,-1.2, -1.5,-1.35, -1.3,-1, -2.3,-.8, -1.25,-2.1, -.55,-1.3, -.25,-1.57, -.1,-1.05, -.6,-.75, 1.5,-.5, 1,.6, 1.3,.8, 1.7,.75, 2.05,.2, -1.05,-1.35, -1.4,-.9]
onr_green = [-2.6,-2.1, -2.5,-1.35, -2.4,-1.6, -2.35,-.6, -2,-1.9, -1.9,-.95, -1.55,-2, -1.7,-2.4, -1,-2.03, -.95,-2.43, -.8,-2.3, -.75,-2.45, -.15,-2.48, -.3,-1.85, -.2,-1.9, -.65,-1.85, .5,-1.9, .7,-1.78, .95,-1.3, 1.05,-1.3, 1.2,-.98, 1.7,-.8, 1.4,-.7, 1.2,-.45, .8,-.65, .6,-1.35, .35,-1.35, .1,-1.4, 1.9,-.35, 2,-.03, 1.85,-.05, 1.95,.05, 1.95,.3, 1.95,.45, 1.9,.65, 2,.85, 2.05,.95, 1.8,.95, 1.6,.55, 1.5,.3, 1.55,1.9, .8,1.65, .35,1.7, -1.05,1.22, -.8,.95, -1.1,.95, -1.4,.3, -1.45,-.05, -1.85,-.7, -1.75,-.45, -1.8,-.6, -1.9,-1.3, -1.85,-1.25, -1.75,-1.5, -1.6,-1.7, -1.4,-1.75, -1.2,-1.6, -1.05,-1.65, -.8,-1.6, -.65,-1.65, -.85,-1.4]
onr_green_core = {.8: [-.2,.1,.4,.9,1.2], .6: [-.7,-.4,-.1,.2,.5,.8,1.1,1.3], .4: [-.8,-.6,-.4,-.2,0,.2,.4,.7,1,1.3], .2: [-.9,-.7,-.5,-.3,-.1,.1,.3,.5,.7,.9,1.2,1.4], 0: [-1.1,-.7,-.5,-.3,-.1,.1,.3,.5,.7,.9,1.2], -.2: [-1.1,-.8,-.6,-.4,-.2,0,.2,.4,.6,.8,1.1], -.4: [-1.2,-.9,-.7,-.5,-.3,-.1,.1,.3,.5,.7,.9], -.6: [-1.2,-1,-.7,-.5,-.3,-.1,.1,.3,.5,.8], -.8: [-1.6,-.9,-.7,-.5,-.3,-.1,.1,.4,.6], -1: [-1.7,-.9,-.6,-.4,-.2,.3,.5], -1.2: [-1.7,-1.1,-.9,-.6,-.3,.1,.3], -1.4: [-1.4,-1.2,-.9,-.7,-.5], -1.6: [-.9,-.7,-.5]}
onr_green_fill = {.7: [-.5,-.2,.1,.3,.6,.9,1.2], .5: [-.8,-.5,-.3,-.1,.1,.3,.6,.9,1.1], .3: [-.9,-.7,-.5,-.3,-.1,.1,.3,.5,.8,1.1,1.4], .1: [-1,-.8,-.6,-.4,-.2,0,.2,.4,.6,.8,1,1.3], -.1: [-1,-.8,-.6,-.4,-.2,0,.2,.4,.6,.8,1], -.3: [-1.2,-1,-.8,-.6,-.4,-.2,0,.2,.4,.6,.8,1], -.5: [-1.1,-.9,-.6,-.4,-.2,0,.2,.4,.6,.8,1], -.7: [-1.1,-.8,-.6,-.4,-.2,0,.2,.4,.7], -.9: [-1,-.8,-.6,-.4,-.2,0,.2,.5,.7], -1.1: [-.9,-.7,-.5,-.3,-.1,.2,.4], -1.3: [-1.2,-.8,-.6,-.3,-.1,.2], -1.5: [-1.5,-1.3,-1,-.8,-.6]}

dnr_gray = [.55,2.65, .65,2.4, .85,2.1, 1.35,2.67, 1.65,2.57, 1.55,2.3, 1.5,2.1, 1.6,1.7, 1.65,1.65, 1.5,1.6, 0,1.95, .05,1.93, -.6,1.55, -.55,1.35, .1,1.45, .3,1.45, .4,1.35, .2,1.25, .4,1.15, .8,1.5, .9,1.35, 1.05,1.45, 1.2,1.35, 1.4,1.35, 1,1.1, 1.1,1, 1.5,1.05, -.8,.97, -.65,1, -.5,1.1, -.35,1.05, -.1,.9, .1,1.05, .5,1.05, .7,1.3, -.1,.7, 0,.7, .2,.65, .4,.6, .6,.5, .8,.5, 1.05,.75]
dnr_brown = [.65,2.2, 1.1,2.15, 1.2,2.55, 1.4,2.4, 1.7,2.15, 1.65,2.1, 1.15,1.75, 1.4,1.85, 1.65,1.6, 2,1.7, 2.1,1.6, 2,1.5, 2.2,1.5, 1.75,1.2, 1.8,.95, 2,1, 1.7,.6, 1.5,.65, 1.8,.7, 1.2,.3, 1.6,.1, 1.7,0, 1.9,.05, 2,.15, 2.05,-.2, 1.9,-.5, 1.7,-.85, 1.15,-.85, 1.15,-1.15, 1.6,-1.33, 1.45,-2.1, .9,-1.57, .35,-1.3, .2,-1.25, 0,-1.3, -.05,-1.4, .1,-.95, -.2,-1.05, -.5,-1.05, -.95,-.95, -1.6,-1.05, -1.35,-.75, .3,-.25, .5,-.5, .4,-.6, .5,-.75, .7,-.8, .85,-.8, .95,-.75, -.55,0, .05,0, -.35,-.5, -.1,.55, -.95,.6, 1.6,.3]
dnr_green = [-3,-2.48, -2.05,-2.45, -1.9,-2.4, -.9,-2.43, -.15,-2.3, -2.15,-1.65, -1.45,-1.87, -1.45,-2.1, -1.1,-1.85, -.85,-2.03, -.55,-2.03, -.25,-1.9, -.05,-1.73, .67,-1.83, .25,-1.6, -2.45,-.13, -2.25,-.23, -1.95,0, -2.35,-.78, -1.8,-.95, -1.85,-1.35, -1.75,-1.55, -1.5,-1.35, -1.7,1, -1.5,1.05, -1.35,1.07, -1.3,.7, -1.6,.33, -1.4,.35, -1.3,.45, -1.05,.75, -.95,.85, -.35,1.55, .25,1.7, -.05,1.93, 1.3,1.6, 1.95,.6, 2,.5, 2,0, 1.95,-.3, 1.7,-.55, 1.45,-.6, 1.3,-.3, 1.4,-.3, 1.45,-.9, 1.45,-1.1, 1.1,-.95, .7,-1.32, .55,-.9]
dnr_green_core = {1: [-.7,-.4,-.1,.2,1.2], .8: [-.9,-.7,-.5,-.3,-.1,.1,.3,.6,1], .6: [-1,-.7,-.5,-.3,-.1], .4: [-1.1,-.8,-.6,-.4,-.2,0,.2,.4,.7,1.05,1.4], .2: [-1.2,-.9,-.7,-.5,-.3,-.1,.1,.3,.5,.8,1.1], 0: [-1.5,-1.2,-1,-.8,-.6,-.4,-.2,0,.3,.5,.8,1.2], -.2: [-1.6,-1.4,-1.2,-1,-.8,-.6,-.4,-.2,0,.2,.5,.9], -.4: [-1.7,-1.5,-1.3,-1.1,-.9,-.7,-.5,-.3,-.1,.1,.7], -.6: [-1.8,-1.5,-1.3,-1.1,-.9,-.7,-.5,-.3,-.1,.1,.3], -.8: [-1.7,-1.3,-1.1,-.8,-.6,-.4,-.2,0,.3,.6], -1: [-1.3,-1,-.7,-.5,-.3,-.1,.2,.4], -1.2: [-1.6,-1.4,-1.1,-.9,-.7,-.4,-.2], -1.4: [-1.3,-1.1,-.8,-.5,.3], -1.6: [-1.2,-1,-.7,-.5,-.2,0]}
dnr_green_fill = {.7: [-.8,-.6,-.4,-.2,0,.3], .5: [-.9,-.6,-.4,-.2,0,.2,.5,.9], .3: [-1,-.8,-.6,-.4,-.2,0,.2,.4,.7,1], .1: [-1.3,-1.1,-.9,-.7,-.5,-.3,-.1,.2,.4,.7,1], -.1: [-1.5,-1.3,-1.1,-.9,-.7,-.5,-.3,-.1,.1,.4,.7], -.3: [-1.7,-1.5,-1.3,-1.1,-.9,-.7,-.5,-.3,-.1,.1,.4,.8], -.5: [-1.7,-1.4,-1.2,-1,-.8,-.6,-.4,-.2,0,.2,.6], -.7: [-1.6,-1.4,-1.2,-1,-.8,-.6,-.4,-.2,0,.2,.5], -.9: [-1.2,-1,-.8,-.6,-.4,-.2,.1,.5], -1.1: [-1.4,-1.1,-.9,-.7,-.5,-.3,-.1,.3], -1.3: [-1.5,-1.2,-1,-.8,-.6,-.3,.1], -1.5: [-1.2,-.9,-.6,-.3,.1]}

awnr_gray = [-1.2,2.67, -.85,2.6, -.75,2.3, -.65,2.4, -.45,2.07, .6,2.67, -.05,2.1, -.95,1.92, -.85,1.97, -1.85,1.75, -1.65,1.67, -1.6,1.47, -.65,1.5, -.55,1.65, -1.05,1.45, -1,1.3, -.9,1.45, -.55,1.05, -.4,1.27, -.05,1.5, .1,1.55, .2,1.45, .35,1.4, -.05,1.3, .15,1.2, .3,1.2, .5,1.2, 1.1,1.35, 1.05,1.1, .55,1.05, -1.9,1.03, -1.7,1, -1.5,1, -1.35,1.05, -1.2,1.05, -1.05,1, -2.2,.8, -1.55,.7, -1.2,.55, -.65,.55, -1.6,.4, -.2,.7, -.1,.65, .15,.7]
awnr_brown = [-1.75,2.2, -.3,2.15, .6,2.4, 1.27,2.55, 1.25,2.13, .7,2.08, .68,1.6, .95,1.55, 1,1.7, 1.75,1.75, 1.85,1.8, 1.8,1.7, 2,1.55, 1.45,1.45, 1.75,1.2, 2.3,1.3, 1.6,.75, 1.9,.7, 2,.7, -.9,.7, -.85,.85, -.8,.55, -.65,.7, -1.5,-.35, -1.45,-.4, -1.65,-.35, -.7,-.25, -.75,-.4, -.7,-.5, -.95,-.9, -1.5,-.95, -1.75,-1.05, -2.15,-1.2, -1.2,-1.35, -.5,-1.05, .5,-.9, .6,-.85, .5,-1, .55,-1, .9,-.75, .7,-1.3, .65,-1.35, 1.4,-1.58, -.4,-2.1, 1.08,-.45, 2.15,-1.07, 2.65,-.25, 2.25,.05, .2,-.05, 1.25,.5, -.1,.8]
awnr_green = [-2.45,-2.48, -1.3,-2.4, -1.2,-2.42, -1.2,-2.47, .15,-2.3, .5,-2.12, .95,-2.03, -1.25,-1.9, -1,-1.85, -.8,-1.72, -2.4,-1.62, -1.7,-1.65, -1.65,-1.62, -1.05,-1.6, -2.4,-1.35, -2.3,-1.3, -2.05,-1.3, -1.7,-1.3, -1.55,-1.4, -2.25,-.3, -2.35,-.47, -2.25,-.85, -2.2,-1.05, .6,-1.4, .4,-1.55, .3,-1.5, 0,-1.6, -.1,-1.85, 0,-1.8, -.15,-2, 1,-1.3, .95,-1.15, 1.65,-1.3, 1.65,-1.45, 1.9,-1.35, 1.95,-.95, 1.65,-.85, 1.85,-.7, 2.1,-.95, 2.4,-.75, 2.35,-.55, 2.4,-.35, 1.8,0, 2.2,-.05, 2.3,.3, 2.45,.3, 2.15,.97, 2.45,1.03, 2.4,.6, 1.6,1.35, 1.45,1, 1.45,.65, 1.6,.75, .2,1.9, -.05,.9, 1.4,.2, 1.5,.1, 1.6,.3, 1.35,-.3, 1.4,-.4, 1.05,-.9, -1,.6, -.95,.5]
awnr_green_core = {1: [-.4,0,.3,.5,.9,1.1], .8: [-.9,-.5,-.2,0,.2,.4,.6,.8,1,1.2], .6: [-1,-.7,-.3,-.1,.1,.3,.5,.7,.9,1.1,1.3], .4: [-1.2,-.9,-.6,-.3,-.1,.1,.3,.5,.7,.9,1.1], .2: [-1.4,-1.1,-.8,-.5,-.3,-.1,.1,.3,.5,.7,.9,1.1], 0: [-1.6,-1.3,-1,-.8,-.5,-.3,-.1,.1,.3,.5,.7,.9,1.1], -.2: [-1.5,-1.2,-.9,-.7,-.5,-.3,-.1,.1,.3,.5,.7,.9,1.1], -.4: [-1.1,-.9,-.6,-.2,0,.2,.4,.6,.8,1], -.6: [-1.9,-1.2,-1,-.6,-.3,-.1,.1,.3,.6,.8,1], -.8: [-1.9,-1.3,-1.1,-.9,-.5,-.3,-.1,.1,.3,.8], -1: [-1.7,-1.2,-.8,-.6,-.3,-.1,.1,.3], -1.2: [-1.4,-1,-.7,-.4,-.2,.1,.3], -1.4: [-1.1,-.9,-.1,.1]}
awnr_green_fill = {.9: [-.2,.2,.4,.7,1], .7: [-.5,-.2,0,.2,.4,.6,.8,1,1.2], .5: [-.8,-.4,-.2,0,.2,.4,.6,.8,1,1.2], .3: [-1,-.7,-.4,-.2,0,.2,.4,.6,.8,1,1.2], .1: [-1.2,-.9,-.6,-.4,-.2,0,.2,.4,.6,.8,1,1.2], -.1: [-1.4,-1.1,-.8,-.6,-.4,-.2,0,.2,.4,.6,.8,1], -.3: [-1.3,-1,-.7,-.4,-.1,.1,.3,.5,.7,.9], -.5: [-1.3,-1,-.8,-.4,-.2,0,.2,.4,.6,.8,1], -.7: [-1.4,-1.1,-.8,-.4,-.2,0,.2,.4,.7,1], -.9: [-1.3,-1,-.7,-.4,-.2,0,.2,.4], -1.1: [-1.2,-.9,-.6,-.3,-.1,.1,.3], -1.3: [-1,-.7,-.2,0,.2]}

njnr_gray = [-2.05,2.57, -1.45,2.67, -1.15,2.65, -.85,2.37, -2,2.27, -2,2.1, -2.1,1.95, -2,2, -1.4,1.67, -.65,1.73, -2,1.6, -1.65,1.55, -1.65,1.4, -1.15,1.5, -1.05,1.4, -.8,1.45, -.75,1.35, -.5,1.35, -.6,1.2, -2.1,1.35, -1.9,1.35, -1.6,1.2, -1.4,1.2, -1.3,1.1, -1.1,1.25, -1,1.15, -.9,1.2, -.75,1.1, -2.1,1.02, -1.9,1, -1.75,1.05, -1.5,1.05, -1.3,.95, -2.15,.67, -1.95,.7, -1.7,.75, -1.65,.65, -1.4,.7, -1.4,.55, -1.45,.4, -1.5,.35, -1.65,.15, -1.1,.7, -1,.8, -.3,.55]
njnr_brown = [0,-2.1, .75,-1.6, .5,-1.37, 1,-1.3, 1.15,-1.33, 1.45,-1.05, 1.55,-1.05, 1.6,-.95, 1.9,-.75, 1.95,-.9, 1.95,-1, 1.5,-.8, 1,-.95, 1.05,-.8, 1,-.65, .9,-.5, .95,-.4, 1.2,-.55, 1.5,-.3, 1.9,-.35, 2.25,-.25, 1.3,-.25, 1.05,-.1, 1.3,-.05, 1.95,-.05, 2.05,.15, 1.5,-.1, 1.7,0, 1.75,.2, 1.45,.2, 1.1,.2, .85,.45, .5,.45, .6,.3, .9,.1, 1,.3, 1.3,.4, 1.6,.4, 2,.45, 2.1,.65, 2,.8, 1.85,.6, 1.5,.7, 1.3,.7, 1.05,.65, 1.8,.95, 1.9,1.05, 1.95,.95, .75,1.25, .8,1.1, 1,1.3, 1.15,1.35, 1.4,1.2, 1.55,1.25, 1.6,1.2, 1.9,1.3, 2.1,1.3, 2.1,1.5, 2,1.55, 2.2,1.55, 2.1,1.7, 2.15,1.85, 1.95,1.55, 2,2.12, 2.05,2.55, 1.6,2.4, .75,2.15, .85,2.15, .95,2.2, .9,2.1, .8,1.68, 1.2,.95, 1.4,.95, .7,.9, 1.5,.5, 1.65,-.45]
njnr_brown_core = {.8: [1.1,1.5,1.7], .5: [1.1,1.7], .3: [1.2,1.4,1.6,1.8], .1: [1.2,1.4,1.6,1.8], -.2: [1.1,1.7], -.6: [1,1.3]}
njnr_green = [-2.15,-2.43, -2.1,-2.45, -1.55,-2.48, -.95,-2.4, -.5,-2.3, -1.55,-1.88, -1.3,-2.03, -.95,-1.9, -.9,-2.1, -2.25,-1.65, -2.1,-1.73, -2.1,-1.4, -1.8,-1.35, -1.75,-1.15, -2.15,-1.02, -2.05,-1.02, -1.7,-.75, -2.2,-.25, -1.7,-.3, -1.75,-.45, -.45,1.55, -.2,1.7, .05,1.65, .2,1.9, .5,1.45, -.3,1.2, -.1,1, .2,1, .4,1.05, .8,.95, 1,1.15, 1.15,1.1, .6,.8, .75,-1.35, 1,-1.3, -.25,-1.85, -.1,-1.95, .1,-1.7, .3,-1.6, .4,-1.55, -.5,-1.75, -1.2,-1.55, -1.05,-1.6, -.6,-1.45, -.3,-1.5, 0,-1.5, -1.4,.15, -1.25,.35, -1.35,-.4, -1.4,-.75, -1.4,-1.15]
njnr_green_core = {.8: [-1,-.7,-.4,-.1,.2,.5], .6: [-1.2,-.9,-.6,-.4,-.2,0,.2,.4], .4: [-1.1,-.8,-.6,-.4,-.2,0,.2,.4], .2: [-1.1,-.9,-.7,-.5,-.3,-.1,.1,.3,.5], 0: [-1,-.8,-.6,-.4,-.2,0,.2,.4,.6], -.2: [-1.3,-1,-.8,-.6,-.4,-.2,0,.2,.4,.6], -.4: [-1.3,-1.1,-.9,-.7,-.5,-.3,-.1,.1,.3,.5,.7], -.6: [-1,-.8,-.6,-.4,-.2,0,.2,.4,.6,.8], -.8: [-1.2,-.9,-.7,-.5,-.3,-.1,.1,.3,.5,.7,.9], -1: [-1.3,-1,-.8,-.6,-.4,-.2,0,.2,.4,.6,.8], -1.2: [-1.1,-.9,-.7,-.5,-.3,-.1,.1,.3,.6], -1.4: [-1.1,-.9,-.7,-.3,.1]}
njnr_green_fill = {.7: [-1,-.7,-.5,-.3,-.1,.1,.3], .5: [-1,-.7,-.5,-.3,-.1,.1,.3], .3: [-1,-.7,-.5,-.3,-.1,.1,.3,.5], .1: [-1,-.8,-.6,-.4,-.2,0,.2,.4], -.1: [-1.2,-.9,-.7,-.5,-.3,-.1,.1,.3,.5], -.3: [-1.2,-1,-.8,-.6,-.4,-.2,0,.2,.4,.6], -.5: [-1.1,-.9,-.7,-.5,-.3,-.1,.1,.3,.5,.7], -.7: [-1.1,-.8,-.6,-.4,-.2,0,.2,.4,.6,.8], -.9: [-1.2,-.9,-.7,-.5,-.3,-.1,.1,.3,.5,.7], -1.1: [-1.2,-1,-.8,-.6,-.4,-.2,0,.2,.4,.7], -1.3: [-1,-.8,-.6,-.4,-.2,0,.2]}

# regression lines: x0, y0, x1, y1, half width of the band at the ends (gray, brown, green)
od_fits = [(-1.85,-.55,2.3,1.25,.3), (-2.25,-.4,2.3,1.45,.25), (-2.55,-1.25,2.05,.55,.1)]
oaw_fits = [(-1.85,-.3,2.3,-.65,.4), (-2.25,-.35,2.25,.8,.3), (-2.6,-.5,2.1,.35,.2)]
daw_fits = [(-.75,-.38,1.65,-.7,.3), (-1.55,-.3,2.15,.65,.25), (-3,-.78,2,.6,.2)]
onj_fits = [(-1.85,-1.53,2.3,-1.35,.25), (-2.25,.75,2.25,1.5,.12), (-2.6,-.6,2.1,-.05,.1)]
dnj_fits = [(-.75,-1.55,1.65,-1.35,.22), (-1.6,1.18,2.15,1.1,.15), (-3,-.38,2,-.1,.15)]
awnj_fits = [(-2.2,-1.4,1.45,-1.43,.25), (-2.15,.58,2.6,1.65,.15), (-2.4,-.85,2.4,.45,.1)]
onr_fits = [(-1.85,.35,2.2,1.75,.32), (-2.2,-1.1,2.2,1.45,.13), (-2.6,-1.25,2,1.1,.08)]
dnr_fits = [(-.75,1.05,1.65,1.25,.2), (-1.55,-.5,2.15,.8,.2), (-3,-1.08,2.05,.55,.15)]
awnr_fits = [(-2.2,1.3,1.45,1.2,.3), (-2.1,-.38,2.6,.85,.22), (-2.4,-.88,2.45,.35,.13)]
njnr_fits = [(-2.1,1.28,-.55,1.2,.12), (.05,-.25,2.2,.75,.15), (-2.2,-.75,1.2,.1,.08)]

hists = {
    "O": (o_start, o_step, [o_gray, o_brown, o_green]),
    "D": (d_start, d_step, [d_gray, d_brown, d_green]),
    "AW": (aw_start, aw_step, [aw_gray, aw_brown, aw_green]),
    "NJ": (nj_start, nj_step, [nj_gray, nj_brown, nj_green]),
    "NR": (nr_start, nr_step, [nr_gray, nr_brown, nr_green]),
}

fig = plt.figure(figsize=(W / 100, H / 100), dpi=100, facecolor="white")


def px_axes(left, top, width, height):
    return fig.add_axes([left / W, 1 - (top + height) / H, width / W, height / H])


def cloud(pairs, *cores):
    pts = np.array(pairs, dtype=float).reshape(-1, 2)
    for core in cores:
        extra = [(x, y) for y, xs in core.items() for x in xs]
        pts = np.vstack([pts, extra])
    return pts


def draw_hist(ax, var, horizontal=False):
    start, step, series = hists[var]
    # green first, gray last, so the overlaps turn olive as in the figure
    for vals, col, alpha in reversed(list(zip(series, COLORS, (0.45, 0.4, 0.45)))):
        pos = start + step * np.arange(len(vals))
        style = dict(align="edge", facecolor=matplotlib.colors.to_rgba(col, alpha),
                     edgecolor=matplotlib.colors.to_rgba(col, 0.75), linewidth=1.1)
        if horizontal:
            ax.barh(pos, vals, height=step, **style)
        else:
            ax.bar(pos, vals, width=step, **style)


def draw_fit(ax, fit, col, z_band, z_line, alpha):
    x0, y0, x1, y1, w = fit
    xs = np.linspace(x0, x1, 40)
    ys = y0 + (y1 - y0) * (xs - x0) / (x1 - x0)
    t = (xs - (x0 + x1) / 2) / ((x1 - x0) / 2)
    half = w * np.sqrt(0.12 + 0.88 * t ** 2)
    ax.fill_between(xs, ys - half, ys + half, color=col, alpha=alpha, lw=0, zorder=z_band)
    ax.plot(xs, ys, color=col, lw=2.4, alpha=0.9, zorder=z_line, solid_capstyle="butt")


def panel(left, top, xvar, yvar, gray, brown, green, fits, green_top=False):
    ax = px_axes(left, top, 233, 229)
    ax.set_xlim(-3, 3)
    ax.set_ylim(-3, 3)
    ax.patch.set_alpha(0)
    ax.spines["top"].set_visible(False)
    ax.spines["right"].set_visible(False)
    ax.spines["left"].set_position(("outward", 8.6))
    ax.spines["bottom"].set_position(("outward", 8.2))
    for side in ("left", "bottom"):
        ax.spines[side].set_color("#a0a0a0")
        ax.spines[side].set_linewidth(1.3)
        ax.spines[side].set_bounds(-3, 3)
    ax.set_xticks(TICKS)
    ax.set_yticks(TICKS)
    ax.tick_params(length=7.2, width=1, color="#888888", labelsize=15, labelcolor="#222222",
                   pad=4, labelfontfamily="Liberation Sans")
    ax.tick_params(axis="x", pad=5)

    green_z = 6 if green_top else 2
    for pts, col, z in ((green, GREEN, green_z), (brown, BROWN, 3), (gray, GRAY, 3.5)):
        ax.scatter(pts[:, 0], pts[:, 1], s=56, color=col, linewidths=0, zorder=z, clip_on=False)
    draw_fit(ax, fits[2], GREEN, 1, 1.5, 0.35)
    draw_fit(ax, fits[0], GRAY, 4, 4.5, 0.35)
    draw_fit(ax, fits[1], BROWN, 7, 7.5, 0.3)

    top_ax = px_axes(left, top - 14 - 48, 233, 48)
    draw_hist(top_ax, xvar)
    top_ax.set_xlim(-3, 3)
    top_ax.set_ylim(0, 144)
    top_ax.axis("off")
    top_ax.plot([-3, 3], [0, 0], color="#666666", lw=1.2, clip_on=False, zorder=5)

    side_ax = px_axes(left + 233 + 14, top, 50, 229)
    draw_hist(side_ax, yvar, horizontal=True)
    side_ax.set_ylim(-3, 3)
    side_ax.set_xlim(0, 150)
    side_ax.axis("off")
    side_ax.plot([0, 0], [-3, 3], color="#666666", lw=1.2, clip_on=False, zorder=5)


panel(107, 70, "O", "D", cloud(od_gray), cloud(od_brown), cloud(od_green, od_green_core, od_green_fill), od_fits)
panel(102, 409, "O", "AW", cloud(oaw_gray), cloud(oaw_brown), cloud(oaw_green, oaw_green_core, oaw_green_fill), oaw_fits)
panel(478, 410, "D", "AW", cloud(daw_gray), cloud(daw_brown), cloud(daw_green, daw_green_core, daw_green_fill), daw_fits)
panel(99, 748, "O", "NJ", cloud(onj_gray), cloud(onj_brown, onj_brown_core), cloud(onj_green, onj_green_core, onj_green_fill), onj_fits, True)
panel(478, 748, "D", "NJ", cloud(dnj_gray), cloud(dnj_brown, dnj_brown_core), cloud(dnj_green, dnj_green_core, dnj_green_fill), dnj_fits, True)
panel(840, 741, "AW", "NJ", cloud(awnj_gray), cloud(awnj_brown, awnj_brown_core), cloud(awnj_green, awnj_green_core, awnj_green_fill), awnj_fits, True)
panel(99, 1086, "O", "NR", cloud(onr_gray), cloud(onr_brown), cloud(onr_green, onr_green_core, onr_green_fill), onr_fits)
panel(477, 1086, "D", "NR", cloud(dnr_gray), cloud(dnr_brown), cloud(dnr_green, dnr_green_core, dnr_green_fill), dnr_fits)
panel(855, 1087, "AW", "NR", cloud(awnr_gray), cloud(awnr_brown), cloud(awnr_green, awnr_green_core, awnr_green_fill), awnr_fits)
panel(1203, 1087, "NJ", "NR", cloud(njnr_gray), cloud(njnr_brown, njnr_brown_core), cloud(njnr_green, njnr_green_core, njnr_green_fill), njnr_fits, True)

# page level texts and the legend, placed in pixels
page = px_axes(0, 0, W, H)
page.set_xlim(0, W)
page.set_ylim(H, 0)
page.axis("off")
page.patch.set_alpha(0)

for txt, x, y in (("O", 226, 33), ("D", 593, 328), ("AW", 959, 652), ("NJ", 1322, 1006)):
    page.text(x, y, txt, ha="center", va="center", fontsize=18, family=FONT, color="black")
for txt, x, y in (("D", 23, 177), ("AW", 15, 525), ("NJ", 23, 861), ("NR", 23, 1200)):
    page.text(x, y, txt, ha="center", va="center", rotation=90, fontsize=18, family=FONT, color="black")

page.add_patch(plt.Rectangle((881, 241), 541, 211, facecolor="white", edgecolor="black", lw=1.5, zorder=1))
page.text(910, 284, "Profiles:", ha="left", va="center", fontsize=19.8, family=FONT, zorder=3)
legend_rows = [("Judgmentally Observing (n = 61)", 313, 334, "#bcbcbc", "#666666"),
               ("Non-Judgmentally Aware (n = 205)", 356, 378, "#e3cbbb", "#bb8560"),
               ("General mindfulness (n = 560)", 399, 422, "#a5dcc8", "#1b9e77")]
for label, y_box, y_txt, fill, col in legend_rows:
    page.add_patch(plt.Rectangle((904, y_box), 43, 43, facecolor=fill, edgecolor="none", zorder=2))
    page.plot([908, 941], [y_box + 21, y_box + 21], color=col, lw=2.5, zorder=3)
    page.plot([925], [y_box + 21], "o", color=col, ms=7.5, zorder=4)
    page.text(963, y_txt, label, ha="left", va="center", fontsize=19.8, family=FONT, zorder=3)
page.plot([1373, 1373], [417, 432], color="black", lw=1, zorder=3)

fig.savefig("out.png", dpi=100, facecolor="white")
